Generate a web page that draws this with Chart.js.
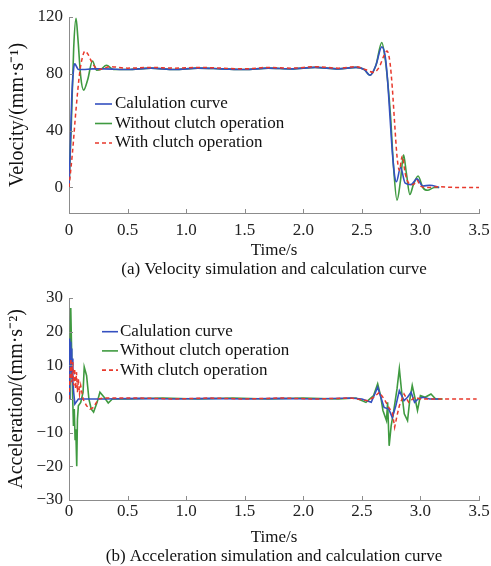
<!DOCTYPE html>
<html><head><meta charset="utf-8">
<script src="https://cdn.jsdelivr.net/npm/chart.js@4/dist/chart.umd.min.js"></script>
<style>
html,body{margin:0;padding:0;background:#fff;overflow:hidden;width:491px;height:566px}
.w{position:absolute;left:0;width:491px}
#w1{top:0;height:282px}
#w2{top:282px;height:286px}
</style></head><body>
<div class="w" id="w1"><canvas id="c1"></canvas></div>
<div class="w" id="w2"><canvas id="c2"></canvas></div>
<script>
// ---------- Labels ----------
const seriesNames = ["Calulation curve", "Without clutch operation", "With clutch operation"];
const timeTicks = [0, 0.5, 1.0, 1.5, 2.0, 2.5, 3.0, 3.5];
const velTicks = [0, 40, 80, 120];
const accTicks = [-30, -20, -10, 0, 10, 20, 30];

// ---------- Velocity (a) ----------
const velCalcT = [0, 0.01, 0.023, 0.04, 0.05, 0.065, 0.08, 0.12, 0.2, 0.3, 0.5, 0.7, 0.9, 1.1, 1.3, 1.5, 1.7, 1.9, 2.1, 2.3, 2.45, 2.52, 2.57, 2.62, 2.67, 2.7, 2.72, 2.74, 2.76, 2.78, 2.795, 2.83, 2.87, 2.92, 2.97, 3.02, 3.08, 3.16];
const velCalcV = [0, 25, 62, 84, 87, 85, 83, 83, 83.5, 83.5, 83, 84, 83, 84, 83.5, 83, 84, 83.5, 84.5, 83.5, 84.5, 83, 79, 86, 99, 92, 75, 50, 25, 8, 4, 14, 3, 2, 6, 1, 1.5, 0];

const velNoClT = [0, 0.02, 0.04, 0.06, 0.075, 0.1, 0.125, 0.16, 0.2, 0.235, 0.27, 0.32, 0.38, 0.5, 0.7, 0.9, 1.1, 1.3, 1.5, 1.7, 1.9, 2.1, 2.3, 2.45, 2.52, 2.57, 2.62, 2.67, 2.7, 2.72, 2.745, 2.77, 2.8, 2.83, 2.856, 2.88, 2.91, 2.94, 2.98, 3.02, 3.06, 3.12, 3.16];
const velNoClV = [0, 45, 98, 119, 106, 78, 68.5, 76, 89, 82.5, 83, 86, 83, 83, 84, 83, 84, 83.5, 83, 84, 83.5, 84.5, 83.5, 84.5, 83, 79, 86, 102, 90, 75, 50, 15, -9, 5, 23, 10, -5, 2, 8, 0, -2, 0, 0];

const velClT = [0, 0.03, 0.06, 0.09, 0.11, 0.136, 0.16, 0.19, 0.22, 0.26, 0.3, 0.35, 0.5, 0.7, 0.9, 1.1, 1.3, 1.5, 1.7, 1.9, 2.1, 2.3, 2.45, 2.53, 2.6, 2.65, 2.69, 2.715, 2.74, 2.76, 2.78, 2.8, 2.82, 2.845, 2.87, 2.9, 2.94, 2.97, 3.0, 3.05, 3.15, 3.3, 3.5];
const velClV = [0, 25, 55, 80, 90, 96, 94, 89, 85, 83, 84, 85, 84, 84.5, 84, 84.5, 84, 83.5, 84.5, 84, 85, 84, 85, 83, 81, 85, 93, 96, 88, 70, 45, 22, 12, 22, 10, 3, 2, 5, 1, 0, 0.5, 0, 0];

// ---------- Acceleration (b) ----------
const accCalcT = [0, 0.004, 0.008, 0.012, 0.016, 0.02, 0.024, 0.028, 0.033, 0.04, 0.05, 0.06, 0.08, 0.3, 0.6, 0.9, 1.2, 1.5, 1.8, 2.1, 2.4, 2.5, 2.58, 2.635, 2.69, 2.73, 2.76, 2.79, 2.82, 2.86, 2.89, 2.92, 2.95, 2.98, 3.02, 3.08, 3.16];
const accCalcA = [0, 18, 9, 17, 8, 15, 6, 12, 5, 2, -1.5, -1, 0, 0, 0.2, 0, 0.2, 0, 0.2, 0, 0.3, 0, -1, 3.5, -2.5, -3, -5.5, -2, 2.5, -0.5, 0.5, 2, -1, 0, 0.5, 0, 0];

const accNoClT = [0, 0.008, 0.015, 0.022, 0.03, 0.038, 0.045, 0.052, 0.058, 0.066, 0.072, 0.08, 0.1, 0.12, 0.13, 0.136, 0.15, 0.17, 0.19, 0.21, 0.24, 0.264, 0.3, 0.335, 0.37, 0.5, 0.8, 1.1, 1.4, 1.7, 2.0, 2.3, 2.45, 2.535, 2.6, 2.635, 2.66, 2.68, 2.71, 2.72, 2.733, 2.75, 2.77, 2.8, 2.82, 2.84, 2.862, 2.89, 2.91, 2.93, 2.955, 2.975, 3.0, 3.04, 3.09, 3.13, 3.19];
const accNoClA = [0, 12, 27, 15, 2, -8, -3, -12, -9, -20, -6, -2, -1, 2, 9.5, 9.5, 7, 0, -3, -3.9, -1, 2, 0.5, -1.2, 0, 0, 0.3, 0, 0.3, 0, 0.3, 0, 0.3, -1, 1, 4.5, 1, -3.4, -6.4, -1, -13.9, -8, -4, 3, 9, 2, -4.4, -6.4, 0, 4, 0, -3.4, 1, 0.5, 1.5, 0, 0];

const accClT = [0, 0.008, 0.016, 0.024, 0.032, 0.04, 0.048, 0.056, 0.064, 0.072, 0.08, 0.09, 0.1, 0.12, 0.15, 0.18, 0.21, 0.25, 0.3, 0.6, 0.9, 1.2, 1.5, 1.8, 2.1, 2.4, 2.55, 2.6, 2.65, 2.69, 2.73, 2.76, 2.78, 2.8, 2.82, 2.86, 2.9, 2.95, 3.0, 3.2, 3.48];
const accClA = [0, 6, 12, 5, 11, 4, 9, 3, 8, 2, 6, 1.5, 4, 0, -2, -3, -2.5, 0, 0.3, 0.3, 0, 0.3, 0, 0.3, 0, 0.3, -0.5, 0.5, 2, 0, -2.5, -4, -8.4, -5, -2, 1.5, -1, 0.5, 0, 0, 0];

// ---------- helpers ----------
const FONT = "'Liberation Serif', 'Times New Roman', serif";
const COL_BLUE = '#3450c0', COL_GREEN = '#3f9a40', COL_RED = '#e8392c', AXIS = '#8c8c8c';
const pts = (ts, vs) => ts.map((t, i) => ({x: t, y: vs[i]}));

const inwardTicks = {
  id: 'inwardTicks',
  afterDraw(chart) {
    const {ctx, chartArea: ca} = chart;
    const xs = chart.scales.x, ys = chart.scales.y;
    ctx.save();
    ctx.strokeStyle = AXIS; ctx.lineWidth = 1;
    ctx.beginPath();
    xs.ticks.forEach(t => { const p = Math.round(xs.getPixelForValue(t.value)) + 0.5; ctx.moveTo(p, ca.bottom); ctx.lineTo(p, ca.bottom - 4); });
    ys.ticks.forEach(t => { const p = Math.round(ys.getPixelForValue(t.value)) + 0.5; ctx.moveTo(ca.left, p); ctx.lineTo(ca.left + 4, p); });
    ctx.stroke();
    ctx.restore();
  }
};

const innerLegend = {
  id: 'innerLegend',
  afterDatasetsDraw(chart, args, o) {
    const ctx = chart.ctx;
    ctx.save();
    ctx.font = '17px ' + FONT;
    ctx.textBaseline = 'middle';
    ctx.textAlign = 'left';
    chart.data.datasets.forEach((ds, i) => {
      const y = o.y0 + i * o.dy;
      ctx.strokeStyle = ds.borderColor;
      ctx.lineWidth = 1.6;
      ctx.setLineDash(ds.borderDash || []);
      ctx.beginPath(); ctx.moveTo(o.x, y); ctx.lineTo(o.x + o.len, y); ctx.stroke();
      ctx.setLineDash([]);
      ctx.fillStyle = '#111';
      ctx.fillText(ds.label, o.x + o.len + o.gap, y);
    });
    ctx.restore();
  }
};

function makeChart(id, cfg) {
  const datasets = [
    {label: seriesNames[0], data: pts(cfg.d[0][0], cfg.d[0][1]), borderColor: COL_BLUE, borderWidth: 1.6, order: 1},
    {label: seriesNames[1], data: pts(cfg.d[1][0], cfg.d[1][1]), borderColor: COL_GREEN, borderWidth: 1.6, order: 2},
    {label: seriesNames[2], data: pts(cfg.d[2][0], cfg.d[2][1]), borderColor: COL_RED, borderWidth: 1.5, borderDash: [4, 3], order: 0}
  ].map(d => Object.assign(d, {pointRadius: 0, fill: false, cubicInterpolationMode: cfg.smooth ? 'monotone' : 'default', tension: 0}));
  return new Chart(document.getElementById(id), {
    type: 'line',
    data: {datasets},
    options: {
      responsive: true, maintainAspectRatio: false, animation: false, devicePixelRatio: 1,
      layout: {padding: {left: 0, right: 12, top: cfg.top, bottom: 0}},
      plugins: {legend: {display: false}, tooltip: {enabled: false},
        innerLegend: cfg.legend},
      scales: {
        x: {
          type: 'linear', min: 0, max: 3.5,
          afterBuildTicks: s => { s.ticks = timeTicks.map(v => ({value: v})); },
          ticks: {color: '#222', font: {family: FONT, size: 17}, padding: cfg.xPad, maxRotation: 0,
            callback: v => v === 0 ? '0' : v.toFixed(1)},
          grid: {display: false, drawTicks: false},
          border: {display: true, color: AXIS, width: 1},
          title: {display: true, text: ['Time/s', cfg.caption], color: '#111',
            font: {family: FONT, size: 17, lineHeight: cfg.titleLH + 'px'}, padding: {top: 0, bottom: cfg.titlePad}},
          afterFit: s => { s.height = cfg.xH; s.paddingLeft = 0; s.paddingRight = 0; }
        },
        y: {
          type: 'linear', min: cfg.ymin, max: cfg.ymax,
          afterBuildTicks: s => { s.ticks = cfg.yTicks.map(v => ({value: v})); },
          ticks: {color: '#222', font: {family: FONT, size: 17}, padding: 6,
            callback: v => String(v).replace('-', '\u2212')},
          grid: {display: false, drawTicks: false},
          border: {display: true, color: AXIS, width: 1},
          title: {display: true, text: cfg.yTitle, color: '#111',
            font: {family: FONT, size: 20, lineHeight: '22px'}, padding: {top: cfg.yTitlePad, bottom: 0}},
          afterFit: s => { s.width = 69; s.paddingTop = 0; s.paddingBottom = 0; }
        }
      }
    },
    plugins: [inwardTicks, innerLegend]
  });
}

makeChart('c1', {
  d: [[velCalcT, velCalcV], [velNoClT, velNoClV], [velClT, velClV]],
  smooth: true, top: 17, ymin: -18, ymax: 120, yTicks: velTicks,
  yTitle: 'Velocity/(mm\u00b7s\u207b\u00b9)', yTitlePad: 7,
  caption: '(a) Velocity simulation and calculation curve',
  xH: 69, xPad: 7, titleLH: 18.6, titlePad: 3.4,
  legend: {x: 95, y0: 104, dy: 19.5, len: 17, gap: 3}
});

makeChart('c2', {
  d: [[accCalcT, accCalcA], [accNoClT, accNoClA], [accClT, accClA]],
  smooth: false, top: 16, ymin: -30, ymax: 30, yTicks: accTicks,
  yTitle: 'Acceleration/(mm\u00b7s\u207b\u00b2)', yTitlePad: 6,
  caption: '(b) Acceleration simulation and calculation curve',
  xH: 68, xPad: 1, titleLH: 19.5, titlePad: 1.5,
  legend: {x: 102, y0: 331.7 - 282, dy: 19.2, len: 16, gap: 2}
});
</script>
</body></html>
